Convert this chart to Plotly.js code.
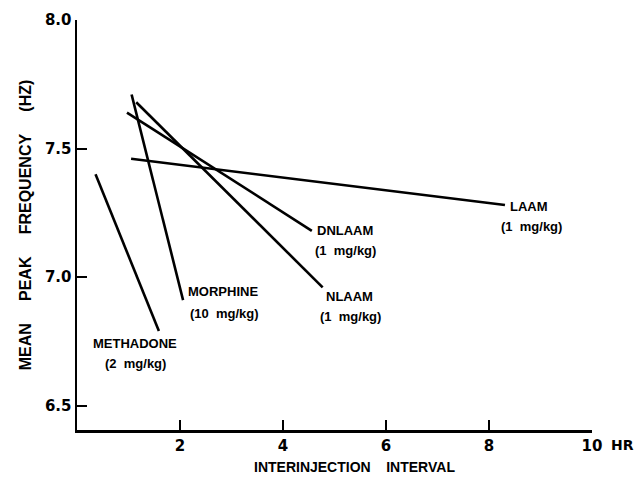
<!DOCTYPE html>
<html>
<head>
<meta charset="utf-8">
<script src="https://cdn.plot.ly/plotly-3.0.1.min.js"></script>
<style>html,body{margin:0;padding:0;background:#fff;}#chart{width:635px;height:480px;}</style>
</head>
<body>
<div id="chart"></div>
<script>
// Data
const drugs   = ["MORPHINE", "NLAAM", "DNLAAM", "LAAM", "METHADONE"];
const doses   = ["(10 mg/kg)", "(1 mg/kg)", "(1 mg/kg)", "(1 mg/kg)", "(2 mg/kg)"];
const xStart  = [1.06, 1.15, 0.97, 1.05, 0.36];
const xEnd    = [2.06, 4.77, 4.56, 8.31, 1.59];
const yStart  = [7.71, 7.68, 7.64, 7.46, 7.40];
const yEnd    = [6.91, 6.96, 7.18, 7.28, 6.79];
const xTicks  = [2, 4, 6, 8, 10];
const yTicks  = [6.5, 7.0, 7.5, 8.0];

// Label placement (name line, dose line) in data units
const namePos = [[2.83, 6.943], [5.29, 6.923], [5.20, 7.183], [8.77, 7.276], [1.13, 6.742]];
const dosePos = [[2.87, 6.859], [5.31, 6.846], [5.22, 7.102], [8.83, 7.196], [1.13, 6.664]];

const lineStyle = {color: "#000", width: 2.6};
const traces = drugs.map((d, i) => ({
  type: "scatter", mode: "lines", name: d,
  x: [xStart[i], xEnd[i]], y: [yStart[i], yEnd[i]],
  line: lineStyle, showlegend: false, hoverinfo: "skip"
}));

const labFont = {family: "Liberation Sans, Arial, sans-serif", size: 13, color: "#000", weight: "bold"};
const sp = n => "&nbsp;".repeat(n);
const annotations = [];
drugs.forEach((d, i) => {
  annotations.push({x: namePos[i][0], y: namePos[i][1], xref: "x", yref: "y", text: "<b>" + d + "</b>",
    showarrow: false, font: labFont, xanchor: "center", yanchor: "middle"});
  annotations.push({x: dosePos[i][0], y: dosePos[i][1], xref: "x", yref: "y", text: "<b>" + doses[i].replace(" ", sp(2)) + "</b>",
    showarrow: false, font: labFont, xanchor: "center", yanchor: "middle"});
});
annotations.push({x: 1.0, y: 0, xref: "paper", yref: "paper", xshift: 30, yshift: -15,
  text: "<b>HR</b>", showarrow: false, xanchor: "center", yanchor: "middle",
  font: {family: "DejaVu Sans, sans-serif", size: 14, color: "#000"}});
annotations.push({x: 0.5, y: 0, xref: "paper", yref: "paper", xshift: 20, yshift: -37,
  text: "<b>INTERINJECTION" + sp(4) + "INTERVAL</b>", showarrow: false, xanchor: "center", yanchor: "middle",
  font: {family: "Liberation Sans, Arial, sans-serif", size: 14, color: "#000"}});

const tickFont = {family: "DejaVu Sans, sans-serif", size: 15, color: "#000", weight: "bold"};
const layout = {
  width: 635, height: 480,
  margin: {l: 77, r: 43, t: 20, b: 50},
  paper_bgcolor: "#fff", plot_bgcolor: "#fff",
  showlegend: false,
  xaxis: {
    range: [0, 10], tickvals: xTicks, ticktext: xTicks.map(String),
    ticks: "inside", ticklen: 10, tickwidth: 2, tickcolor: "#000",
    showline: true, linewidth: 2.5, linecolor: "#000",
    showgrid: false, zeroline: false, tickfont: tickFont
  },
  yaxis: {
    range: [6.405, 8.0], tickvals: yTicks, ticktext: yTicks.map(v => v.toFixed(1)),
    ticks: "inside", ticklen: 10, tickwidth: 2, tickcolor: "#000",
    showline: true, linewidth: 2.5, linecolor: "#000",
    showgrid: false, zeroline: false, tickfont: tickFont,
    title: {text: "<b>MEAN" + sp(5) + "PEAK" + sp(5) + "FREQUENCY" + sp(5) + "(HZ)</b>", standoff: 10,
      font: {family: "Liberation Sans, Arial, sans-serif", size: 16, color: "#000"}}
  },
  annotations: annotations
};

Plotly.newPlot("chart", traces, layout, {displayModeBar: false, staticPlot: true});
</script>
</body>
</html>
